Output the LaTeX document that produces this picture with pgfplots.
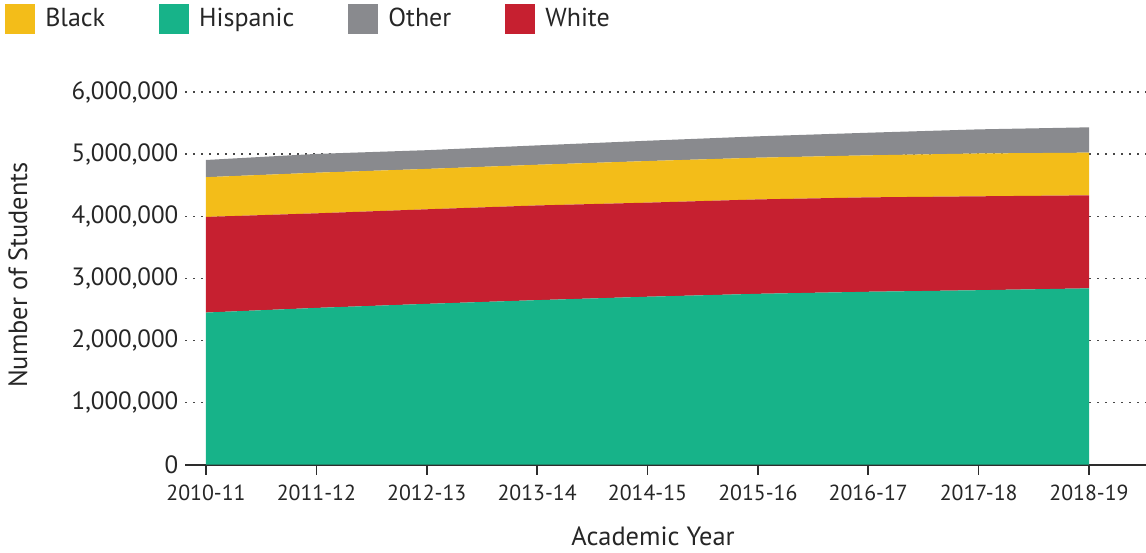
\documentclass[border=0pt]{standalone}
\usepackage{pgfplots}
\pgfplotsset{compat=1.18}
\usepackage{fontspec}
\setmainfont{PT Sans}
\definecolor{cBlack}{RGB}{243,189,25}
\definecolor{cHisp}{RGB}{23,179,137}
\definecolor{cOther}{RGB}{137,138,142}
\definecolor{cWhite}{RGB}{198,32,48}
\definecolor{cAxis}{RGB}{45,45,45}
\definecolor{cGrid}{RGB}{70,70,70}
\begin{document}
\begin{tikzpicture}
\useasboundingbox (0,0) rectangle (573pt,276pt);
\begin{axis}[
  at={(92.5pt,43.65pt)}, anchor=south west,
  scale only axis, width=480.5pt, height=186.3pt,
  xmin=-0.19, xmax=8.516, ymin=0, ymax=6000000,
  axis x line*=bottom, axis y line*=left,
  y axis line style={draw=none},
  x axis line style={draw=cAxis, line width=1pt, -},
  xtick={0,...,8},
  xticklabels={2010-11,2011-12,2012-13,2013-14,2014-15,2015-16,2016-17,2017-18,2018-19},
  x tick style={draw=cAxis, line width=0.8pt},
  tick align=outside, major tick length=5pt,
  ytick={0,1000000,2000000,3000000,4000000,5000000,6000000},
  y tick style={draw=none},
  scaled y ticks=false,
  /pgf/number format/.cd, fixed, 1000 sep={,}, assume math mode=true, /pgfplots/.cd,
  tick label style={font=\fontsize{10.9}{13}\selectfont, text=black!85},
  yticklabel style={font=\fontsize{12.5}{14}\selectfont, xshift=5.2pt},
  xticklabel style={yshift=-1.5pt},
  ymajorgrids, grid style={draw=cGrid, line width=0.75pt, dash pattern=on 1pt off 3pt},
  xlabel={Academic Year}, ylabel={Number of Students},
  label style={font=\fontsize{13.2}{15}\selectfont, text=black!85},
  xlabel style={at={(axis description cs:0.487,0)}, anchor=center, yshift=-36pt},
  ylabel style={at={(axis description cs:-0.1738,0.509)}, anchor=center, rotate=0},
  stack plots=y,
  legend style={at={(axis description cs:-0.187,1.236)}, anchor=north west,
    draw=none, fill=none, inner sep=0pt, outer sep=0pt,
    font=\fontsize{13}{15}\selectfont, text=black!85,
    /tikz/every even column/.append style={column sep=26pt},
    nodes={inner sep=1pt}},
  legend columns=4,
  legend cell align=left,
  legend image code/.code={\fill[#1, draw=none] (0pt,-7.5pt) rectangle (15pt,7.5pt); \path (19pt,0pt);},
]
\addlegendimage{fill=cBlack, draw=none}\addlegendentry{Black}
\addlegendimage{fill=cHisp, draw=none}\addlegendentry{Hispanic}
\addlegendimage{fill=cOther, draw=none}\addlegendentry{Other}
\addlegendimage{fill=cWhite, draw=none}\addlegendentry{White}
% Hispanic
\addplot[fill=cHisp, draw=none, forget plot] coordinates {
(0,2450000) (1,2525000) (2,2590000) (3,2650000) (4,2705000) (5,2752000) (6,2785000) (7,2810000) (8,2840000)} \closedcycle;
% White
\addplot[fill=cWhite, draw=none, forget plot] coordinates {
(0,1540000) (1,1523000) (2,1523000) (3,1525000) (4,1515000) (5,1520000) (6,1520000) (7,1512000) (8,1498000)} \closedcycle;
% Black
\addplot[fill=cBlack, draw=none, forget plot] coordinates {
(0,640000) (1,654000) (2,650000) (3,655000) (4,670000) (5,672000) (6,677000) (7,690000) (8,687000)} \closedcycle;
% Other
\addplot[fill=cOther, draw=none, forget plot] coordinates {
(0,277000) (1,303000) (2,302000) (3,312000) (4,327000) (5,344000) (6,364000) (7,388000) (8,408000)} \closedcycle;
\end{axis}
\end{tikzpicture}
\end{document}
